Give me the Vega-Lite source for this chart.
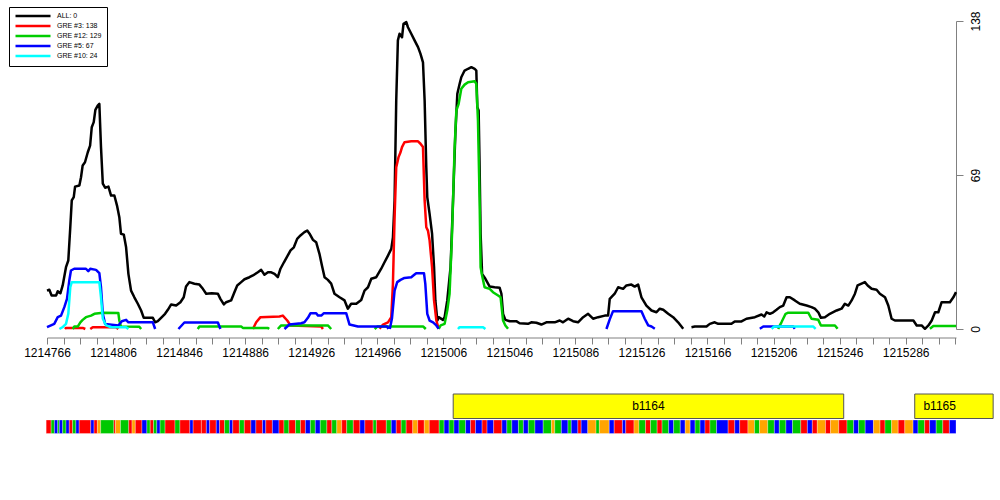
{
"$schema":"https://vega.github.io/schema/vega-lite/v6.json",
"padding":{"left":8,"top":6,"right":5,"bottom":5},
"background":"white",
"config":{"font":"Liberation Sans","view":{"stroke":null}},
"spacing":35,
"resolve":{"scale":{"color":"independent","fill":"independent"}},
"datasets":{
"cov":[
{"series":"ALL: 0","seg":"a1","pos":1214766,"count":17.2},{"series":"ALL: 0","seg":"a1","pos":1214767.4,"count":17.6},{"series":"ALL: 0","seg":"a1","pos":1214768.8,"count":15.0},{"series":"ALL: 0","seg":"a1","pos":1214771.5,"count":15.0},{"series":"ALL: 0","seg":"a1","pos":1214772.5,"count":16.9},{"series":"ALL: 0","seg":"a1","pos":1214774.1,"count":16.0},{"series":"ALL: 0","seg":"a1","pos":1214775.5,"count":19.5},{"series":"ALL: 0","seg":"a1","pos":1214777.5,"count":27.7},{"series":"ALL: 0","seg":"a1","pos":1214778.9,"count":30.7},{"series":"ALL: 0","seg":"a1","pos":1214780.1,"count":45.6},{"series":"ALL: 0","seg":"a1","pos":1214781,"count":57.6},{"series":"ALL: 0","seg":"a1","pos":1214782.2,"count":59.1},{"series":"ALL: 0","seg":"a1","pos":1214783,"count":63.8},{"series":"ALL: 0","seg":"a1","pos":1214785.6,"count":64.3},{"series":"ALL: 0","seg":"a1","pos":1214786.6,"count":68.0},{"series":"ALL: 0","seg":"a1","pos":1214787.6,"count":73.3},{"series":"ALL: 0","seg":"a1","pos":1214789,"count":74.7},{"series":"ALL: 0","seg":"a1","pos":1214790.7,"count":79.2},{"series":"ALL: 0","seg":"a1","pos":1214792.1,"count":82.2},{"series":"ALL: 0","seg":"a1","pos":1214793.1,"count":90.4},{"series":"ALL: 0","seg":"a1","pos":1214794.3,"count":92.7},{"series":"ALL: 0","seg":"a1","pos":1214795.3,"count":98.2},{"series":"ALL: 0","seg":"a1","pos":1214796.7,"count":100.1},{"series":"ALL: 0","seg":"a1","pos":1214797.7,"count":100.9},{"series":"ALL: 0","seg":"a1","pos":1214798.7,"count":81.5},{"series":"ALL: 0","seg":"a1","pos":1214799.8,"count":65.1},{"series":"ALL: 0","seg":"a1","pos":1214801.2,"count":63.3},{"series":"ALL: 0","seg":"a1","pos":1214803.2,"count":63.8},{"series":"ALL: 0","seg":"a1","pos":1214804.8,"count":59.8},{"series":"ALL: 0","seg":"a1","pos":1214806.8,"count":59.8},{"series":"ALL: 0","seg":"a1","pos":1214808.4,"count":55.3},{"series":"ALL: 0","seg":"a1","pos":1214809.8,"count":50.1},{"series":"ALL: 0","seg":"a1","pos":1214810.8,"count":42.7},{"series":"ALL: 0","seg":"a1","pos":1214812.5,"count":42.3},{"series":"ALL: 0","seg":"a1","pos":1214813.9,"count":36.6},{"series":"ALL: 0","seg":"a1","pos":1214815.3,"count":24.7},{"series":"ALL: 0","seg":"a1","pos":1214816.9,"count":17.2},{"series":"ALL: 0","seg":"a1","pos":1214818.9,"count":14.2},{"series":"ALL: 0","seg":"a1","pos":1214821,"count":11.3},{"series":"ALL: 0","seg":"a1","pos":1214823,"count":8.3},{"series":"ALL: 0","seg":"a1","pos":1214824.6,"count":5.0},{"series":"ALL: 0","seg":"a1","pos":1214830.1,"count":5.0},{"series":"ALL: 0","seg":"a1","pos":1214831.5,"count":3.0},{"series":"ALL: 0","seg":"a1","pos":1214833.1,"count":3.5},{"series":"ALL: 0","seg":"a1","pos":1214835.1,"count":5.0},{"series":"ALL: 0","seg":"a1","pos":1214837.5,"count":6.8},{"series":"ALL: 0","seg":"a1","pos":1214839.2,"count":8.6},{"series":"ALL: 0","seg":"a1","pos":1214841.2,"count":11.0},{"series":"ALL: 0","seg":"a1","pos":1214844.2,"count":10.5},{"series":"ALL: 0","seg":"a1","pos":1214846.8,"count":12.0},{"series":"ALL: 0","seg":"a1","pos":1214848.8,"count":14.2},{"series":"ALL: 0","seg":"a1","pos":1214850.2,"count":19.0},{"series":"ALL: 0","seg":"a1","pos":1214852.2,"count":21.0},{"series":"ALL: 0","seg":"a1","pos":1214855.3,"count":20.3},{"series":"ALL: 0","seg":"a1","pos":1214858.3,"count":19.9},{"series":"ALL: 0","seg":"a1","pos":1214860.4,"count":18.0},{"series":"ALL: 0","seg":"a1","pos":1214862.4,"count":15.8},{"series":"ALL: 0","seg":"a1","pos":1214865.8,"count":16.0},{"series":"ALL: 0","seg":"a1","pos":1214869.5,"count":15.8},{"series":"ALL: 0","seg":"a1","pos":1214871,"count":13.5},{"series":"ALL: 0","seg":"a1","pos":1214873.1,"count":11.0},{"series":"ALL: 0","seg":"a1","pos":1214874.5,"count":12.0},{"series":"ALL: 0","seg":"a1","pos":1214877.5,"count":12.8},{"series":"ALL: 0","seg":"a1","pos":1214879.5,"count":16.5},{"series":"ALL: 0","seg":"a1","pos":1214881.2,"count":19.5},{"series":"ALL: 0","seg":"a1","pos":1214883.6,"count":21.0},{"series":"ALL: 0","seg":"a1","pos":1214885.6,"count":22.3},{"series":"ALL: 0","seg":"a1","pos":1214888.6,"count":23.2},{"series":"ALL: 0","seg":"a1","pos":1214890.7,"count":24.0},{"series":"ALL: 0","seg":"a1","pos":1214893.7,"count":25.4},{"series":"ALL: 0","seg":"a1","pos":1214895.7,"count":26.5},{"series":"ALL: 0","seg":"a1","pos":1214897.7,"count":24.3},{"series":"ALL: 0","seg":"a1","pos":1214899.8,"count":25.4},{"series":"ALL: 0","seg":"a1","pos":1214901.8,"count":25.4},{"series":"ALL: 0","seg":"a1","pos":1214903.8,"count":24.7},{"series":"ALL: 0","seg":"a1","pos":1214905.8,"count":23.2},{"series":"ALL: 0","seg":"a1","pos":1214907.4,"count":27.0},{"series":"ALL: 0","seg":"a1","pos":1214909.5,"count":29.9},{"series":"ALL: 0","seg":"a1","pos":1214911.5,"count":32.5},{"series":"ALL: 0","seg":"a1","pos":1214913.5,"count":35.2},{"series":"ALL: 0","seg":"a1","pos":1214915.5,"count":36.6},{"series":"ALL: 0","seg":"a1","pos":1214917.5,"count":40.4},{"series":"ALL: 0","seg":"a1","pos":1214919.5,"count":41.9},{"series":"ALL: 0","seg":"a1","pos":1214921.9,"count":43.4},{"series":"ALL: 0","seg":"a1","pos":1214923.6,"count":44.1},{"series":"ALL: 0","seg":"a1","pos":1214925,"count":42.7},{"series":"ALL: 0","seg":"a1","pos":1214927,"count":40.0},{"series":"ALL: 0","seg":"a1","pos":1214929,"count":38.9},{"series":"ALL: 0","seg":"a1","pos":1214931,"count":33.7},{"series":"ALL: 0","seg":"a1","pos":1214932.5,"count":28.5},{"series":"ALL: 0","seg":"a1","pos":1214934.1,"count":23.2},{"series":"ALL: 0","seg":"a1","pos":1214936.1,"count":22.0},{"series":"ALL: 0","seg":"a1","pos":1214938.1,"count":20.3},{"series":"ALL: 0","seg":"a1","pos":1214940.1,"count":15.8},{"series":"ALL: 0","seg":"a1","pos":1214943.2,"count":14.2},{"series":"ALL: 0","seg":"a1","pos":1214946.2,"count":12.8},{"series":"ALL: 0","seg":"a1","pos":1214948.2,"count":9.1},{"series":"ALL: 0","seg":"a1","pos":1214950.2,"count":11.3},{"series":"ALL: 0","seg":"a1","pos":1214953.3,"count":11.3},{"series":"ALL: 0","seg":"a1","pos":1214956.3,"count":13.0},{"series":"ALL: 0","seg":"a1","pos":1214958.3,"count":17.2},{"series":"ALL: 0","seg":"a1","pos":1214960.4,"count":18.7},{"series":"ALL: 0","seg":"a1","pos":1214962.4,"count":22.5},{"series":"ALL: 0","seg":"a1","pos":1214965.4,"count":23.2},{"series":"ALL: 0","seg":"a1","pos":1214968.4,"count":27.0},{"series":"ALL: 0","seg":"a1","pos":1214970.4,"count":29.9},{"series":"ALL: 0","seg":"a1","pos":1214972.5,"count":32.9},{"series":"ALL: 0","seg":"a1","pos":1214974.5,"count":35.9},{"series":"ALL: 0","seg":"a1","pos":1214975.5,"count":41.0},{"series":"ALL: 0","seg":"a1","pos":1214976.5,"count":57.6},{"series":"ALL: 0","seg":"a1","pos":1214977.5,"count":102.4},{"series":"ALL: 0","seg":"a1","pos":1214978.5,"count":129.3},{"series":"ALL: 0","seg":"a1","pos":1214979.5,"count":132.3},{"series":"ALL: 0","seg":"a1","pos":1214981,"count":130.7},{"series":"ALL: 0","seg":"a1","pos":1214981.9,"count":136.7},{"series":"ALL: 0","seg":"a1","pos":1214983.6,"count":137.5},{"series":"ALL: 0","seg":"a1","pos":1214984.6,"count":135.2},{"series":"ALL: 0","seg":"a1","pos":1214986.6,"count":132.3},{"series":"ALL: 0","seg":"a1","pos":1214988.6,"count":129.3},{"series":"ALL: 0","seg":"a1","pos":1214990.7,"count":126.3},{"series":"ALL: 0","seg":"a1","pos":1214992.2,"count":123.3},{"series":"ALL: 0","seg":"a1","pos":1214993.7,"count":119.5},{"series":"ALL: 0","seg":"a1","pos":1214994.7,"count":102.4},{"series":"ALL: 0","seg":"a1","pos":1214995.7,"count":72.5},{"series":"ALL: 0","seg":"a1","pos":1214996.3,"count":59.1},{"series":"ALL: 0","seg":"a1","pos":1214997.7,"count":51.6},{"series":"ALL: 0","seg":"a1","pos":1214999.2,"count":42.7},{"series":"ALL: 0","seg":"a1","pos":1215000.4,"count":27.7},{"series":"ALL: 0","seg":"a1","pos":1215001.2,"count":12.8},{"series":"ALL: 0","seg":"a1","pos":1215002.4,"count":3.8},{"series":"ALL: 0","seg":"a1","pos":1215003.2,"count":5.3},{"series":"ALL: 0","seg":"a1","pos":1215005.8,"count":4.1},{"series":"ALL: 0","seg":"a1","pos":1215006.8,"count":5.3},{"series":"ALL: 0","seg":"a1","pos":1215008.4,"count":12.8},{"series":"ALL: 0","seg":"a1","pos":1215010.4,"count":27.7},{"series":"ALL: 0","seg":"a1","pos":1215011.9,"count":57.6},{"series":"ALL: 0","seg":"a1","pos":1215013.3,"count":87.5},{"series":"ALL: 0","seg":"a1","pos":1215014.5,"count":105.4},{"series":"ALL: 0","seg":"a1","pos":1215015.9,"count":109.9},{"series":"ALL: 0","seg":"a1","pos":1215016.9,"count":112.8},{"series":"ALL: 0","seg":"a1","pos":1215018.9,"count":115.8},{"series":"ALL: 0","seg":"a1","pos":1215021,"count":116.6},{"series":"ALL: 0","seg":"a1","pos":1215023,"count":117.3},{"series":"ALL: 0","seg":"a1","pos":1215025,"count":116.6},{"series":"ALL: 0","seg":"a1","pos":1215026,"count":115.8},{"series":"ALL: 0","seg":"a1","pos":1215026.6,"count":99.4},{"series":"ALL: 0","seg":"a1","pos":1215027.4,"count":97.9},{"series":"ALL: 0","seg":"a1","pos":1215028,"count":72.5},{"series":"ALL: 0","seg":"a1","pos":1215028.6,"count":42.7},{"series":"ALL: 0","seg":"a1","pos":1215029.5,"count":24.7},{"series":"ALL: 0","seg":"a1","pos":1215031.5,"count":22.5},{"series":"ALL: 0","seg":"a1","pos":1215034.1,"count":19.0},{"series":"ALL: 0","seg":"a1","pos":1215037.1,"count":18.7},{"series":"ALL: 0","seg":"a1","pos":1215040.1,"count":18.5},{"series":"ALL: 0","seg":"a1","pos":1215041.2,"count":15.8},{"series":"ALL: 0","seg":"a1","pos":1215042.2,"count":6.8},{"series":"ALL: 0","seg":"a1","pos":1215043.6,"count":4.1},{"series":"ALL: 0","seg":"a1","pos":1215046.2,"count":3.5},{"series":"ALL: 0","seg":"a1","pos":1215050.2,"count":3.5},{"series":"ALL: 0","seg":"a1","pos":1215052.2,"count":2.6},{"series":"ALL: 0","seg":"a1","pos":1215057.3,"count":2.3},{"series":"ALL: 0","seg":"a1","pos":1215059.3,"count":3.0},{"series":"ALL: 0","seg":"a1","pos":1215062.4,"count":2.8},{"series":"ALL: 0","seg":"a1","pos":1215065.4,"count":2.0},{"series":"ALL: 0","seg":"a1","pos":1215068.4,"count":3.0},{"series":"ALL: 0","seg":"a1","pos":1215073.5,"count":3.0},{"series":"ALL: 0","seg":"a1","pos":1215076.5,"count":3.8},{"series":"ALL: 0","seg":"a1","pos":1215078.5,"count":3.0},{"series":"ALL: 0","seg":"a1","pos":1215081.6,"count":4.6},{"series":"ALL: 0","seg":"a1","pos":1215084.6,"count":3.5},{"series":"ALL: 0","seg":"a1","pos":1215087.6,"count":3.0},{"series":"ALL: 0","seg":"a1","pos":1215090.7,"count":5.3},{"series":"ALL: 0","seg":"a1","pos":1215093.7,"count":6.8},{"series":"ALL: 0","seg":"a1","pos":1215096.7,"count":4.6},{"series":"ALL: 0","seg":"a1","pos":1215099.8,"count":5.3},{"series":"ALL: 0","seg":"a1","pos":1215103.8,"count":6.0},{"series":"ALL: 0","seg":"a1","pos":1215105.8,"count":6.0},{"series":"ALL: 0","seg":"a1","pos":1215106.8,"count":13.5},{"series":"ALL: 0","seg":"a1","pos":1215109.8,"count":15.8},{"series":"ALL: 0","seg":"a1","pos":1215111.9,"count":18.7},{"series":"ALL: 0","seg":"a1","pos":1215114.9,"count":18.0},{"series":"ALL: 0","seg":"a1","pos":1215116.9,"count":19.5},{"series":"ALL: 0","seg":"a1","pos":1215119.9,"count":19.9},{"series":"ALL: 0","seg":"a1","pos":1215121.9,"count":19.0},{"series":"ALL: 0","seg":"a1","pos":1215124,"count":19.9},{"series":"ALL: 0","seg":"a1","pos":1215126,"count":14.2},{"series":"ALL: 0","seg":"a1","pos":1215129,"count":10.5},{"series":"ALL: 0","seg":"a1","pos":1215132.1,"count":8.3},{"series":"ALL: 0","seg":"a1","pos":1215135.1,"count":7.5},{"series":"ALL: 0","seg":"a1","pos":1215137.1,"count":9.1},{"series":"ALL: 0","seg":"a1","pos":1215139.2,"count":8.6},{"series":"ALL: 0","seg":"a1","pos":1215142.2,"count":6.8},{"series":"ALL: 0","seg":"a1","pos":1215145.2,"count":5.3},{"series":"ALL: 0","seg":"a1","pos":1215148.2,"count":3.0},{"series":"ALL: 0","seg":"a1","pos":1215151.3,"count":0.1},
{"series":"ALL: 0","seg":"a2","pos":1215156.3,"count":0.8},{"series":"ALL: 0","seg":"a2","pos":1215158.3,"count":1.1},{"series":"ALL: 0","seg":"a2","pos":1215165.4,"count":1.1},{"series":"ALL: 0","seg":"a2","pos":1215167.4,"count":2.3},{"series":"ALL: 0","seg":"a2","pos":1215170.4,"count":3.0},{"series":"ALL: 0","seg":"a2","pos":1215172.5,"count":2.3},{"series":"ALL: 0","seg":"a2","pos":1215180.5,"count":2.3},{"series":"ALL: 0","seg":"a2","pos":1215182.5,"count":3.4},{"series":"ALL: 0","seg":"a2","pos":1215186.6,"count":3.4},{"series":"ALL: 0","seg":"a2","pos":1215189.6,"count":4.6},{"series":"ALL: 0","seg":"a2","pos":1215194.7,"count":5.3},{"series":"ALL: 0","seg":"a2","pos":1215198.7,"count":6.5},{"series":"ALL: 0","seg":"a2","pos":1215200.4,"count":5.6},{"series":"ALL: 0","seg":"a2","pos":1215201.8,"count":7.5},{"series":"ALL: 0","seg":"a2","pos":1215203.8,"count":6.8},{"series":"ALL: 0","seg":"a2","pos":1215205.8,"count":7.5},{"series":"ALL: 0","seg":"a2","pos":1215207.8,"count":8.6},{"series":"ALL: 0","seg":"a2","pos":1215209.8,"count":9.8},{"series":"ALL: 0","seg":"a2","pos":1215211.9,"count":10.5},{"series":"ALL: 0","seg":"a2","pos":1215213.9,"count":14.2},{"series":"ALL: 0","seg":"a2","pos":1215215.9,"count":14.2},{"series":"ALL: 0","seg":"a2","pos":1215218.9,"count":12.8},{"series":"ALL: 0","seg":"a2","pos":1215221.9,"count":11.3},{"series":"ALL: 0","seg":"a2","pos":1215226,"count":10.5},{"series":"ALL: 0","seg":"a2","pos":1215229,"count":9.8},{"series":"ALL: 0","seg":"a2","pos":1215231,"count":9.1},{"series":"ALL: 0","seg":"a2","pos":1215233.1,"count":7.5},{"series":"ALL: 0","seg":"a2","pos":1215234.7,"count":5.0},{"series":"ALL: 0","seg":"a2","pos":1215237.1,"count":5.3},{"series":"ALL: 0","seg":"a2","pos":1215240.1,"count":6.8},{"series":"ALL: 0","seg":"a2","pos":1215244.2,"count":8.3},{"series":"ALL: 0","seg":"a2","pos":1215247.2,"count":9.1},{"series":"ALL: 0","seg":"a2","pos":1215249.2,"count":11.3},{"series":"ALL: 0","seg":"a2","pos":1215251.3,"count":10.5},{"series":"ALL: 0","seg":"a2","pos":1215253.3,"count":12.8},{"series":"ALL: 0","seg":"a2","pos":1215255.3,"count":15.8},{"series":"ALL: 0","seg":"a2","pos":1215256.9,"count":19.5},{"series":"ALL: 0","seg":"a2","pos":1215259.3,"count":20.3},{"series":"ALL: 0","seg":"a2","pos":1215261.3,"count":21.0},{"series":"ALL: 0","seg":"a2","pos":1215263,"count":19.5},{"series":"ALL: 0","seg":"a2","pos":1215265.4,"count":18.0},{"series":"ALL: 0","seg":"a2","pos":1215268.4,"count":17.6},{"series":"ALL: 0","seg":"a2","pos":1215270.4,"count":15.8},{"series":"ALL: 0","seg":"a2","pos":1215273.5,"count":14.2},{"series":"ALL: 0","seg":"a2","pos":1215275.5,"count":10.5},{"series":"ALL: 0","seg":"a2","pos":1215277.5,"count":4.6},{"series":"ALL: 0","seg":"a2","pos":1215279.5,"count":3.8},{"series":"ALL: 0","seg":"a2","pos":1215290.7,"count":3.8},{"series":"ALL: 0","seg":"a2","pos":1215292.7,"count":1.6},{"series":"ALL: 0","seg":"a2","pos":1215295.7,"count":1.6},{"series":"ALL: 0","seg":"a2","pos":1215297.7,"count":0.1},{"series":"ALL: 0","seg":"a2","pos":1215299.8,"count":1.6},{"series":"ALL: 0","seg":"a2","pos":1215301.8,"count":3.8},{"series":"ALL: 0","seg":"a2","pos":1215303.8,"count":7.5},{"series":"ALL: 0","seg":"a2","pos":1215305.8,"count":7.5},{"series":"ALL: 0","seg":"a2","pos":1215307.8,"count":12.0},{"series":"ALL: 0","seg":"a2","pos":1215312.8,"count":12.0},{"series":"ALL: 0","seg":"a2","pos":1215314.9,"count":14.2},{"series":"ALL: 0","seg":"a2","pos":1215316.5,"count":16.5},
{"series":"GRE #3: 138","seg":"r1","pos":1214776.9,"count":0},{"series":"GRE #3: 138","seg":"r1","pos":1214777.5,"count":0.5},{"series":"GRE #3: 138","seg":"r1","pos":1214787.6,"count":0.5},{"series":"GRE #3: 138","seg":"r1","pos":1214789.2,"count":0},
{"series":"GRE #3: 138","seg":"r2","pos":1214792.2,"count":0},{"series":"GRE #3: 138","seg":"r2","pos":1214793.7,"count":0.8},{"series":"GRE #3: 138","seg":"r2","pos":1214807.8,"count":0.8},{"series":"GRE #3: 138","seg":"r2","pos":1214809.2,"count":0},
{"series":"GRE #3: 138","seg":"r3","pos":1214890.7,"count":0},{"series":"GRE #3: 138","seg":"r3","pos":1214892.7,"count":3.0},{"series":"GRE #3: 138","seg":"r3","pos":1214895.3,"count":5.3},{"series":"GRE #3: 138","seg":"r3","pos":1214906.8,"count":5.6},{"series":"GRE #3: 138","seg":"r3","pos":1214908.8,"count":6.0},{"series":"GRE #3: 138","seg":"r3","pos":1214911.5,"count":3.8},{"series":"GRE #3: 138","seg":"r3","pos":1214913.5,"count":1.6},{"series":"GRE #3: 138","seg":"r3","pos":1214932.1,"count":1.1},{"series":"GRE #3: 138","seg":"r3","pos":1214933.1,"count":0},
{"series":"GRE #3: 138","seg":"r4","pos":1214967.4,"count":0.1},{"series":"GRE #3: 138","seg":"r4","pos":1214969.5,"count":2.0},{"series":"GRE #3: 138","seg":"r4","pos":1214972.5,"count":3.0},{"series":"GRE #3: 138","seg":"r4","pos":1214974.5,"count":5.3},{"series":"GRE #3: 138","seg":"r4","pos":1214975.5,"count":20.3},{"series":"GRE #3: 138","seg":"r4","pos":1214976.5,"count":50.1},{"series":"GRE #3: 138","seg":"r4","pos":1214977.5,"count":72.5},{"series":"GRE #3: 138","seg":"r4","pos":1214978.9,"count":77.0},{"series":"GRE #3: 138","seg":"r4","pos":1214980.1,"count":79.2},{"series":"GRE #3: 138","seg":"r4","pos":1214981,"count":81.5},{"series":"GRE #3: 138","seg":"r4","pos":1214982.5,"count":83.7},{"series":"GRE #3: 138","seg":"r4","pos":1214986.6,"count":84.1},{"series":"GRE #3: 138","seg":"r4","pos":1214990.7,"count":84.1},{"series":"GRE #3: 138","seg":"r4","pos":1214992.2,"count":83.0},{"series":"GRE #3: 138","seg":"r4","pos":1214993.7,"count":81.5},{"series":"GRE #3: 138","seg":"r4","pos":1214994.7,"count":57.6},{"series":"GRE #3: 138","seg":"r4","pos":1214995.7,"count":45.6},{"series":"GRE #3: 138","seg":"r4","pos":1214996.7,"count":44.1},{"series":"GRE #3: 138","seg":"r4","pos":1214997.7,"count":39.7},{"series":"GRE #3: 138","seg":"r4","pos":1214999.2,"count":27.7},{"series":"GRE #3: 138","seg":"r4","pos":1215000.4,"count":12.8},{"series":"GRE #3: 138","seg":"r4","pos":1215001.8,"count":3.8},{"series":"GRE #3: 138","seg":"r4","pos":1215003.2,"count":0.1},
{"series":"GRE #12: 129","seg":"g1","pos":1214781.6,"count":0},{"series":"GRE #12: 129","seg":"g1","pos":1214782.5,"count":1.1},{"series":"GRE #12: 129","seg":"g1","pos":1214784.6,"count":1.1},{"series":"GRE #12: 129","seg":"g1","pos":1214786.2,"count":3.0},{"series":"GRE #12: 129","seg":"g1","pos":1214787.6,"count":4.1},{"series":"GRE #12: 129","seg":"g1","pos":1214789.6,"count":5.3},{"series":"GRE #12: 129","seg":"g1","pos":1214792.7,"count":6.0},{"series":"GRE #12: 129","seg":"g1","pos":1214794.7,"count":6.8},{"series":"GRE #12: 129","seg":"g1","pos":1214799.8,"count":7.3},{"series":"GRE #12: 129","seg":"g1","pos":1214809.2,"count":7.2},{"series":"GRE #12: 129","seg":"g1","pos":1214809.8,"count":3.8},{"series":"GRE #12: 129","seg":"g1","pos":1214810.8,"count":1.1},{"series":"GRE #12: 129","seg":"g1","pos":1214821.9,"count":1.0},{"series":"GRE #12: 129","seg":"g1","pos":1214823,"count":0},
{"series":"GRE #12: 129","seg":"g2","pos":1214857.3,"count":0},{"series":"GRE #12: 129","seg":"g2","pos":1214858.3,"count":1.1},{"series":"GRE #12: 129","seg":"g2","pos":1214883.6,"count":1.1},{"series":"GRE #12: 129","seg":"g2","pos":1214884.6,"count":0.5},{"series":"GRE #12: 129","seg":"g2","pos":1214899.8,"count":0.5},{"series":"GRE #12: 129","seg":"g2","pos":1214900.5,"count":0},
{"series":"GRE #12: 129","seg":"g3","pos":1214905.8,"count":0},{"series":"GRE #12: 129","seg":"g3","pos":1214907.8,"count":1.6},{"series":"GRE #12: 129","seg":"g3","pos":1214936.1,"count":1.6},{"series":"GRE #12: 129","seg":"g3","pos":1214938.1,"count":0},
{"series":"GRE #12: 129","seg":"g4","pos":1214964.4,"count":0},{"series":"GRE #12: 129","seg":"g4","pos":1214966,"count":1.1},{"series":"GRE #12: 129","seg":"g4","pos":1214993.9,"count":1.1},{"series":"GRE #12: 129","seg":"g4","pos":1214995.4,"count":0},
{"series":"GRE #12: 129","seg":"g5","pos":1215003.2,"count":0.1},{"series":"GRE #12: 129","seg":"g5","pos":1215004.4,"count":1.6},{"series":"GRE #12: 129","seg":"g5","pos":1215006.8,"count":2.3},{"series":"GRE #12: 129","seg":"g5","pos":1215008.4,"count":8.3},{"series":"GRE #12: 129","seg":"g5","pos":1215009.8,"count":15.8},{"series":"GRE #12: 129","seg":"g5","pos":1215011.3,"count":42.7},{"series":"GRE #12: 129","seg":"g5","pos":1215012.8,"count":80.0},{"series":"GRE #12: 129","seg":"g5","pos":1215013.9,"count":97.9},{"series":"GRE #12: 129","seg":"g5","pos":1215015.3,"count":100.9},{"series":"GRE #12: 129","seg":"g5","pos":1215016.9,"count":107.6},{"series":"GRE #12: 129","seg":"g5","pos":1215018.9,"count":109.5},{"series":"GRE #12: 129","seg":"g5","pos":1215021,"count":110.6},{"series":"GRE #12: 129","seg":"g5","pos":1215025,"count":111.0},{"series":"GRE #12: 129","seg":"g5","pos":1215026,"count":109.9},{"series":"GRE #12: 129","seg":"g5","pos":1215027,"count":93.4},{"series":"GRE #12: 129","seg":"g5","pos":1215028,"count":57.6},{"series":"GRE #12: 129","seg":"g5","pos":1215028.6,"count":27.7},{"series":"GRE #12: 129","seg":"g5","pos":1215029.5,"count":24.0},{"series":"GRE #12: 129","seg":"g5","pos":1215031,"count":18.7},{"series":"GRE #12: 129","seg":"g5","pos":1215034.1,"count":18.0},{"series":"GRE #12: 129","seg":"g5","pos":1215036.1,"count":16.5},{"series":"GRE #12: 129","seg":"g5","pos":1215039.2,"count":15.0},{"series":"GRE #12: 129","seg":"g5","pos":1215040.7,"count":14.2},{"series":"GRE #12: 129","seg":"g5","pos":1215042.2,"count":3.8},{"series":"GRE #12: 129","seg":"g5","pos":1215043.6,"count":1.6},{"series":"GRE #12: 129","seg":"g5","pos":1215045.2,"count":0.1},
{"series":"GRE #12: 129","seg":"g6","pos":1215208.8,"count":0},{"series":"GRE #12: 129","seg":"g6","pos":1215209.8,"count":1.6},{"series":"GRE #12: 129","seg":"g6","pos":1215210.8,"count":3.0},{"series":"GRE #12: 129","seg":"g6","pos":1215213.3,"count":6.8},{"series":"GRE #12: 129","seg":"g6","pos":1215214.9,"count":7.3},{"series":"GRE #12: 129","seg":"g6","pos":1215227,"count":7.3},{"series":"GRE #12: 129","seg":"g6","pos":1215229,"count":4.6},{"series":"GRE #12: 129","seg":"g6","pos":1215233.1,"count":4.1},{"series":"GRE #12: 129","seg":"g6","pos":1215234.7,"count":1.6},{"series":"GRE #12: 129","seg":"g6","pos":1215243.2,"count":1.6},{"series":"GRE #12: 129","seg":"g6","pos":1215244.8,"count":0.1},
{"series":"GRE #12: 129","seg":"g7","pos":1215300.7,"count":0.1},{"series":"GRE #12: 129","seg":"g7","pos":1215302.8,"count":1.3},{"series":"GRE #12: 129","seg":"g7","pos":1215316.5,"count":1.3},
{"series":"GRE #5: 67","seg":"b1","pos":1214766,"count":0.8},{"series":"GRE #5: 67","seg":"b1","pos":1214768.4,"count":1.6},{"series":"GRE #5: 67","seg":"b1","pos":1214770.4,"count":2.3},{"series":"GRE #5: 67","seg":"b1","pos":1214772.5,"count":5.3},{"series":"GRE #5: 67","seg":"b1","pos":1214774.5,"count":6.0},{"series":"GRE #5: 67","seg":"b1","pos":1214776.5,"count":9.8},{"series":"GRE #5: 67","seg":"b1","pos":1214778.1,"count":13.5},{"series":"GRE #5: 67","seg":"b1","pos":1214779.5,"count":21.7},{"series":"GRE #5: 67","seg":"b1","pos":1214780.5,"count":26.2},{"series":"GRE #5: 67","seg":"b1","pos":1214782.5,"count":27.0},{"series":"GRE #5: 67","seg":"b1","pos":1214789.6,"count":27.0},{"series":"GRE #5: 67","seg":"b1","pos":1214791,"count":25.9},{"series":"GRE #5: 67","seg":"b1","pos":1214792.2,"count":27.0},{"series":"GRE #5: 67","seg":"b1","pos":1214795.7,"count":26.5},{"series":"GRE #5: 67","seg":"b1","pos":1214797.7,"count":25.0},{"series":"GRE #5: 67","seg":"b1","pos":1214798.7,"count":18.7},{"series":"GRE #5: 67","seg":"b1","pos":1214799.8,"count":6.8},{"series":"GRE #5: 67","seg":"b1","pos":1214801.2,"count":2.3},{"series":"GRE #5: 67","seg":"b1","pos":1214809.2,"count":1.6},{"series":"GRE #5: 67","seg":"b1","pos":1214811.3,"count":3.5},{"series":"GRE #5: 67","seg":"b1","pos":1214813.9,"count":4.1},{"series":"GRE #5: 67","seg":"b1","pos":1214815.3,"count":3.0},{"series":"GRE #5: 67","seg":"b1","pos":1214830.1,"count":3.0},{"series":"GRE #5: 67","seg":"b1","pos":1214831.5,"count":0},
{"series":"GRE #5: 67","seg":"b2","pos":1214845.6,"count":0},{"series":"GRE #5: 67","seg":"b2","pos":1214849.2,"count":2.9},{"series":"GRE #5: 67","seg":"b2","pos":1214869.5,"count":2.9},{"series":"GRE #5: 67","seg":"b2","pos":1214871,"count":0},
{"series":"GRE #5: 67","seg":"b3","pos":1214909.8,"count":0},{"series":"GRE #5: 67","seg":"b3","pos":1214912.8,"count":2.0},{"series":"GRE #5: 67","seg":"b3","pos":1214919.9,"count":2.6},{"series":"GRE #5: 67","seg":"b3","pos":1214921.9,"count":3.0},{"series":"GRE #5: 67","seg":"b3","pos":1214924,"count":5.0},{"series":"GRE #5: 67","seg":"b3","pos":1214925.6,"count":7.1},{"series":"GRE #5: 67","seg":"b3","pos":1214929,"count":7.1},{"series":"GRE #5: 67","seg":"b3","pos":1214930.1,"count":6.0},{"series":"GRE #5: 67","seg":"b3","pos":1214932.1,"count":6.0},{"series":"GRE #5: 67","seg":"b3","pos":1214933.7,"count":7.1},{"series":"GRE #5: 67","seg":"b3","pos":1214947.2,"count":7.1},{"series":"GRE #5: 67","seg":"b3","pos":1214949.2,"count":2.0},{"series":"GRE #5: 67","seg":"b3","pos":1214954.3,"count":1.1},{"series":"GRE #5: 67","seg":"b3","pos":1214972.1,"count":1.1},{"series":"GRE #5: 67","seg":"b3","pos":1214972.7,"count":0},
{"series":"GRE #5: 67","seg":"b4","pos":1214973.6,"count":0},{"series":"GRE #5: 67","seg":"b4","pos":1214974.9,"count":4.7},{"series":"GRE #5: 67","seg":"b4","pos":1214976.5,"count":17.2},{"series":"GRE #5: 67","seg":"b4","pos":1214978.1,"count":21.0},{"series":"GRE #5: 67","seg":"b4","pos":1214980.1,"count":22.0},{"series":"GRE #5: 67","seg":"b4","pos":1214982.5,"count":22.9},{"series":"GRE #5: 67","seg":"b4","pos":1214986.6,"count":23.2},{"series":"GRE #5: 67","seg":"b4","pos":1214988.6,"count":24.4},{"series":"GRE #5: 67","seg":"b4","pos":1214989.6,"count":25.0},{"series":"GRE #5: 67","seg":"b4","pos":1214994.3,"count":25.0},{"series":"GRE #5: 67","seg":"b4","pos":1214995.1,"count":20.3},{"series":"GRE #5: 67","seg":"b4","pos":1214996.3,"count":6.8},{"series":"GRE #5: 67","seg":"b4","pos":1214997.7,"count":3.8},{"series":"GRE #5: 67","seg":"b4","pos":1214999.8,"count":3.0},{"series":"GRE #5: 67","seg":"b4","pos":1215001.8,"count":1.6},{"series":"GRE #5: 67","seg":"b4","pos":1215003.2,"count":0.1},
{"series":"GRE #5: 67","seg":"b5","pos":1215104.8,"count":0},{"series":"GRE #5: 67","seg":"b5","pos":1215106.8,"count":4.3},{"series":"GRE #5: 67","seg":"b5","pos":1215108.8,"count":8.0},{"series":"GRE #5: 67","seg":"b5","pos":1215126,"count":8.0},{"series":"GRE #5: 67","seg":"b5","pos":1215128,"count":4.6},{"series":"GRE #5: 67","seg":"b5","pos":1215130.1,"count":1.6},{"series":"GRE #5: 67","seg":"b5","pos":1215132.1,"count":1.1},{"series":"GRE #5: 67","seg":"b5","pos":1215134.1,"count":0.1},
{"series":"GRE #5: 67","seg":"b6","pos":1215197.7,"count":0.1},{"series":"GRE #5: 67","seg":"b6","pos":1215199.8,"count":1.1},{"series":"GRE #5: 67","seg":"b6","pos":1215217.9,"count":1.1},{"series":"GRE #5: 67","seg":"b6","pos":1215218.9,"count":0.1},
{"series":"GRE #10: 24","seg":"c1","pos":1214773.5,"count":0},{"series":"GRE #10: 24","seg":"c1","pos":1214775.5,"count":0.8},{"series":"GRE #10: 24","seg":"c1","pos":1214777.5,"count":2.3},{"series":"GRE #10: 24","seg":"c1","pos":1214778.9,"count":6.8},{"series":"GRE #10: 24","seg":"c1","pos":1214780.1,"count":18.7},{"series":"GRE #10: 24","seg":"c1","pos":1214781,"count":21.0},{"series":"GRE #10: 24","seg":"c1","pos":1214797.7,"count":21.0},{"series":"GRE #10: 24","seg":"c1","pos":1214798.7,"count":14.2},{"series":"GRE #10: 24","seg":"c1","pos":1214799.8,"count":4.6},{"series":"GRE #10: 24","seg":"c1","pos":1214801.8,"count":1.6},{"series":"GRE #10: 24","seg":"c1","pos":1214804.8,"count":0.8},{"series":"GRE #10: 24","seg":"c1","pos":1214813.9,"count":0.8},{"series":"GRE #10: 24","seg":"c1","pos":1214815.3,"count":0},
{"series":"GRE #10: 24","seg":"c2","pos":1215014.9,"count":0},{"series":"GRE #10: 24","seg":"c2","pos":1215015.9,"count":0.8},{"series":"GRE #10: 24","seg":"c2","pos":1215030.1,"count":0.8},{"series":"GRE #10: 24","seg":"c2","pos":1215031.5,"count":0},
{"series":"GRE #10: 24","seg":"c3","pos":1215204.8,"count":0.1},{"series":"GRE #10: 24","seg":"c3","pos":1215206.4,"count":1.1},{"series":"GRE #10: 24","seg":"c3","pos":1215230.1,"count":1.1},{"series":"GRE #10: 24","seg":"c3","pos":1215231.5,"count":0.1}
],
"genes":[
{"name":"b1164","start":1215012,"end":1215248.5,"mid":1215130.2},
{"name":"b1165","start":1215291.5,"end":1215339,"mid":1215306.6}
],
"seq":[
{"base":"T","start":1214765.5,"end":1214768.5},{"base":"A","start":1214768.5,"end":1214770.5},{"base":"C","start":1214770.5,"end":1214772.5},{"base":"A","start":1214772.5,"end":1214773.5},{"base":"C","start":1214773.5,"end":1214775.5},{"base":"A","start":1214775.5,"end":1214777.5},{"base":"C","start":1214777.5,"end":1214779.5},{"base":"T","start":1214779.5,"end":1214781.5},{"base":"A","start":1214781.5,"end":1214783.5},{"base":"C","start":1214783.5,"end":1214785.5},{"base":"T","start":1214785.5,"end":1214792.5},{"base":"C","start":1214792.5,"end":1214794.5},{"base":"T","start":1214794.5,"end":1214796.5},{"base":"G","start":1214796.5,"end":1214798.5},{"base":"A","start":1214798.5,"end":1214806.5},{"base":"T","start":1214806.5,"end":1214807.5},{"base":"G","start":1214807.5,"end":1214810.5},{"base":"A","start":1214810.5,"end":1214815.5},{"base":"T","start":1214815.5,"end":1214817.5},{"base":"G","start":1214817.5,"end":1214819.5},{"base":"T","start":1214819.5,"end":1214823.5},{"base":"C","start":1214823.5,"end":1214826.5},{"base":"A","start":1214826.5,"end":1214828.5},{"base":"T","start":1214828.5,"end":1214830.5},{"base":"A","start":1214830.5,"end":1214832.5},{"base":"C","start":1214832.5,"end":1214834.5},{"base":"A","start":1214834.5,"end":1214837.5},{"base":"T","start":1214837.5,"end":1214843.5},{"base":"A","start":1214843.5,"end":1214846.5},{"base":"T","start":1214846.5,"end":1214852.5},{"base":"C","start":1214852.5,"end":1214854.5},{"base":"T","start":1214854.5,"end":1214859.5},
{"base":"T","start":1214859.5,"end":1214862.5},{"base":"C","start":1214862.5,"end":1214864.5},{"base":"T","start":1214864.5,"end":1214868.5},{"base":"C","start":1214868.5,"end":1214870.5},{"base":"T","start":1214870.5,"end":1214873.5},{"base":"A","start":1214873.5,"end":1214876.5},{"base":"C","start":1214876.5,"end":1214878.5},{"base":"T","start":1214878.5,"end":1214882.5},{"base":"A","start":1214882.5,"end":1214885.5},{"base":"T","start":1214885.5,"end":1214889.5},{"base":"C","start":1214889.5,"end":1214892.5},{"base":"T","start":1214892.5,"end":1214896.5},{"base":"C","start":1214896.5,"end":1214898.5},{"base":"T","start":1214898.5,"end":1214902.5},{"base":"C","start":1214902.5,"end":1214906.5},{"base":"T","start":1214906.5,"end":1214909.5},{"base":"A","start":1214909.5,"end":1214912.5},{"base":"T","start":1214912.5,"end":1214916.5},{"base":"A","start":1214916.5,"end":1214919.5},{"base":"T","start":1214919.5,"end":1214922.5},{"base":"C","start":1214922.5,"end":1214925.5},{"base":"A","start":1214925.5,"end":1214928.5},{"base":"C","start":1214928.5,"end":1214931.5},{"base":"A","start":1214931.5,"end":1214935.5},{"base":"T","start":1214935.5,"end":1214938.5},{"base":"A","start":1214938.5,"end":1214941.5},{"base":"G","start":1214941.5,"end":1214944.5},{"base":"T","start":1214944.5,"end":1214947.5},{"base":"A","start":1214947.5,"end":1214951.5},{"base":"T","start":1214951.5,"end":1214955.5},{"base":"C","start":1214955.5,"end":1214958.5},{"base":"T","start":1214958.5,"end":1214963.5},{"base":"A","start":1214963.5,"end":1214965.5},{"base":"T","start":1214965.5,"end":1214971.5},{"base":"A","start":1214971.5,"end":1214974.5},{"base":"C","start":1214974.5,"end":1214977.5},{"base":"T","start":1214977.5,"end":1214980.5},{"base":"A","start":1214980.5,"end":1214983.5},{"base":"T","start":1214983.5,"end":1214987.5},{"base":"G","start":1214987.5,"end":1214990.5},{"base":"T","start":1214990.5,"end":1214994.5},{"base":"G","start":1214994.5,"end":1214997.5},{"base":"T","start":1214997.5,"end":1215003.5},{"base":"A","start":1215003.5,"end":1215006.5},{"base":"C","start":1215006.5,"end":1215009.5},{"base":"A","start":1215009.5,"end":1215012.5},{"base":"C","start":1215012.5,"end":1215015.5},{"base":"A","start":1215015.5,"end":1215019.5},{"base":"C","start":1215019.5,"end":1215022.5},{"base":"T","start":1215022.5,"end":1215025.5},{"base":"C","start":1215025.5,"end":1215029.5},{"base":"T","start":1215029.5,"end":1215032.5},{"base":"C","start":1215032.5,"end":1215036.5},{"base":"T","start":1215036.5,"end":1215041.5},{"base":"C","start":1215041.5,"end":1215044.5},{"base":"A","start":1215044.5,"end":1215047.5},{"base":"C","start":1215047.5,"end":1215051.5},{"base":"A","start":1215051.5,"end":1215054.5},{"base":"C","start":1215054.5,"end":1215057.5},{"base":"A","start":1215057.5,"end":1215061.5},{"base":"C","start":1215061.5,"end":1215066.5},{"base":"A","start":1215066.5,"end":1215071.5},{"base":"G","start":1215071.5,"end":1215073.5},{"base":"A","start":1215073.5,"end":1215077.5},{"base":"C","start":1215077.5,"end":1215081.5},{"base":"A","start":1215081.5,"end":1215083.5},{"base":"C","start":1215083.5,"end":1215087.5},{"base":"T","start":1215087.5,"end":1215089.5},{"base":"C","start":1215089.5,"end":1215093.5},{"base":"G","start":1215093.5,"end":1215098.5},{"base":"A","start":1215098.5,"end":1215100.5},{"base":"G","start":1215100.5,"end":1215106.5},{"base":"C","start":1215106.5,"end":1215109.5},{"base":"T","start":1215109.5,"end":1215114.5},{"base":"C","start":1215114.5,"end":1215116.5},{"base":"T","start":1215116.5,"end":1215121.5},{"base":"G","start":1215121.5,"end":1215124.5},{"base":"A","start":1215124.5,"end":1215128.5},{"base":"T","start":1215128.5,"end":1215131.5},{"base":"A","start":1215131.5,"end":1215135.5},{"base":"T","start":1215135.5,"end":1215138.5},{"base":"A","start":1215138.5,"end":1215142.5},{"base":"C","start":1215142.5,"end":1215145.5},{"base":"A","start":1215145.5,"end":1215149.5},{"base":"C","start":1215149.5,"end":1215152.5},{"base":"G","start":1215152.5,"end":1215155.5},{"base":"C","start":1215155.5,"end":1215158.5},{"base":"A","start":1215158.5,"end":1215161.5},{"base":"C","start":1215161.5,"end":1215164.5},{"base":"T","start":1215164.5,"end":1215167.5},{"base":"A","start":1215167.5,"end":1215171.5},{"base":"C","start":1215171.5,"end":1215178.5},{"base":"T","start":1215178.5,"end":1215182.5},{"base":"C","start":1215182.5,"end":1215185.5},{"base":"T","start":1215185.5,"end":1215190.5},{"base":"G","start":1215190.5,"end":1215194.5},{"base":"A","start":1215194.5,"end":1215197.5},{"base":"G","start":1215197.5,"end":1215202.5},{"base":"A","start":1215202.5,"end":1215206.5},{"base":"C","start":1215206.5,"end":1215209.5},{"base":"A","start":1215209.5,"end":1215213.5},{"base":"C","start":1215213.5,"end":1215217.5},{"base":"A","start":1215217.5,"end":1215222.5},{"base":"T","start":1215222.5,"end":1215226.5},{"base":"C","start":1215226.5,"end":1215229.5},{"base":"T","start":1215229.5,"end":1215232.5},{"base":"G","start":1215232.5,"end":1215237.5},{"base":"T","start":1215237.5,"end":1215240.5},{"base":"G","start":1215240.5,"end":1215245.5},{"base":"T","start":1215245.5,"end":1215250.5},{"base":"A","start":1215250.5,"end":1215254.5},{"base":"C","start":1215254.5,"end":1215257.5},{"base":"A","start":1215257.5,"end":1215261.5},{"base":"C","start":1215261.5,"end":1215266.5},{"base":"G","start":1215266.5,"end":1215270.5},{"base":"T","start":1215270.5,"end":1215273.5},{"base":"A","start":1215273.5,"end":1215277.5},{"base":"G","start":1215277.5,"end":1215281.5},{"base":"T","start":1215281.5,"end":1215285.5},{"base":"G","start":1215285.5,"end":1215290.5},{"base":"C","start":1215290.5,"end":1215293.5},{"base":"A","start":1215293.5,"end":1215297.5},{"base":"T","start":1215297.5,"end":1215300.5},{"base":"C","start":1215300.5,"end":1215304.5},{"base":"A","start":1215304.5,"end":1215308.5},{"base":"T","start":1215308.5,"end":1215312.5},{"base":"C","start":1215312.5,"end":1215316.5}
]
},
"vconcat":[
{
"width":909,"height":308,
"data":{"name":"cov"},
"mark":{"type":"line","strokeWidth":2.5,"strokeJoin":"round","strokeCap":"butt"},
"encoding":{
"x":{"field":"pos","type":"quantitative","scale":{"domain":[1214766,1215316.5],"nice":false,"zero":false},
"axis":{"title":null,"grid":false,"offset":8.5,"tickSize":6.5,"labelPadding":3,"labelFontSize":12,"labelColor":"black","domainColor":"#808080","tickColor":"#808080","labelOverlap":false,"labelFlush":false,"labelBound":false,
"values":[1214766,1214776,1214786,1214796,1214806,1214816,1214826,1214836,1214846,1214856,1214866,1214876,1214886,1214896,1214906,1214916,1214926,1214936,1214946,1214956,1214966,1214976,1214986,1214996,1215006,1215016,1215026,1215036,1215046,1215056,1215066,1215076,1215086,1215096,1215106,1215116,1215126,1215136,1215146,1215156,1215166,1215176,1215186,1215196,1215206,1215216,1215226,1215236,1215246,1215256,1215266,1215276,1215286,1215296,1215306,1215316],
"labelExpr":"(datum.value - 1214766) % 40 == 0 ? format(datum.value, 'd') : ''"}},
"y":{"field":"count","type":"quantitative","scale":{"domain":[0,138],"nice":false},
"axis":{"orient":"right","title":null,"grid":false,"values":[0,69,138],"tickSize":7,"labelPadding":7,"labelAngle":-90,"labelAlign":"center","labelBaseline":"top","labelFontSize":12,"labelColor":"black","domainColor":"#808080","tickColor":"#808080","labelFlush":false,"labelOverlap":false,"labelBound":false}},
"color":{"field":"series","type":"nominal","sort":null,
"scale":{"domain":["ALL: 0","GRE #3: 138","GRE #12: 129","GRE #5: 67","GRE #10: 24"],"range":["#000000","#ff0000","#00cd00","#0000ff","#00ffff"]},
"legend":{"orient":"none","legendX":-38,"legendY":-14,"title":null,"symbolType":"M-1,0H13","symbolSize":25,"symbolStrokeWidth":2.5,"labelOffset":35,"labelFontSize":7,"labelFont":"Liberation Sans","labelColor":"black","fillColor":"white","strokeColor":"black","padding":5,"rowPadding":0,"cornerRadius":0}},
"detail":{"field":"seg"}
}
},
{
"spacing":0,
"vconcat":[
{
"width":909,"height":24.5,
"data":{"name":"genes"},
"layer":[
{"mark":{"type":"rect","fill":"#ffff00","stroke":"#555555","strokeWidth":1,"clip":false},
"encoding":{"x":{"field":"start","type":"quantitative","scale":{"domain":[1214766,1215316.5],"nice":false,"zero":false},"axis":null},"x2":{"field":"end"}}},
{"mark":{"type":"text","fontSize":12,"color":"black","font":"Liberation Sans"},
"encoding":{"x":{"field":"mid","type":"quantitative","scale":{"domain":[1214766,1215316.5],"nice":false,"zero":false},"axis":null},"text":{"field":"name"}}}
]
},
{
"width":909,"height":13.5,
"data":{"name":"seq"},
"mark":{"type":"rect","stroke":"white","strokeWidth":0.4,"strokeOpacity":0.7},
"encoding":{
"x":{"field":"start","type":"quantitative","scale":{"domain":[1214766,1215316.5],"nice":false,"zero":false},"axis":null},
"x2":{"field":"end"},
"fill":{"field":"base","type":"nominal","scale":{"domain":["A","C","G","T"],"range":["#00c800","#0000ff","#ffa500","#ff0000"]},"legend":null}
}
}
]
}
]
}
